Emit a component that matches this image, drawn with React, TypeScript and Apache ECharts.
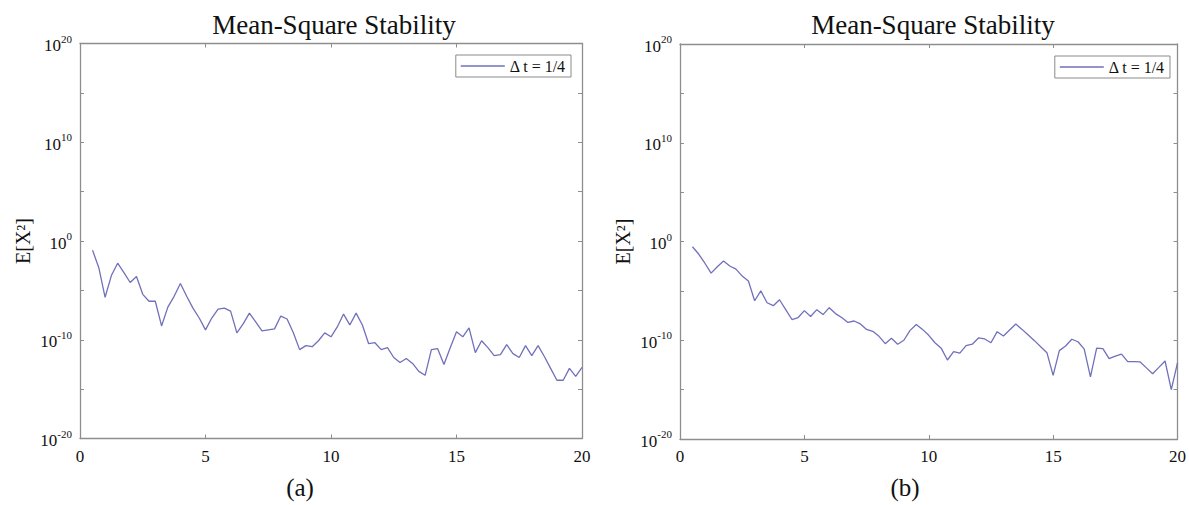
import React, { useEffect, useRef } from "react";
import * as echarts from "echarts";

// time steps t (Δt = 1/4)
const timeSteps = [
  0.5, 0.75, 1.0, 1.25, 1.5, 1.75, 2.0, 2.25, 2.5, 2.75,
  3.0, 3.25, 3.5, 3.75, 4.0, 4.25, 4.5, 4.75, 5.0, 5.25,
  5.5, 5.75, 6.0, 6.25, 6.5, 6.75, 7.0, 7.25, 7.5, 7.75,
  8.0, 8.25, 8.5, 8.75, 9.0, 9.25, 9.5, 9.75, 10.0, 10.25,
  10.5, 10.75, 11.0, 11.25, 11.5, 11.75, 12.0, 12.25, 12.5, 12.75,
  13.0, 13.25, 13.5, 13.75, 14.0, 14.25, 14.5, 14.75, 15.0, 15.25,
  15.5, 15.75, 16.0, 16.25, 16.5, 16.75, 17.0, 17.25, 17.5, 17.75,
  18.0, 18.25, 18.5, 18.75, 19.0, 19.25, 19.5, 19.75, 20.0,
];

// log10 of E[X^2], panel (a)
const log10EX2PanelA = [
  -0.94, -2.7, -5.7, -3.5, -2.25, -3.2, -4.2, -3.6, -5.4, -6.1,
  -6.1, -8.6, -6.7, -5.6, -4.3, -5.6, -6.8, -7.8, -9.0, -7.8,
  -6.9, -6.8, -7.1, -9.3, -8.4, -7.3, -8.2, -9.1, -9.0, -8.9,
  -7.6, -7.9, -9.3, -11.0, -10.6, -10.7, -10.1, -9.3, -9.7, -8.7,
  -7.4, -8.5, -7.3, -8.5, -10.4, -10.3, -11.0, -10.8, -11.8, -12.3,
  -11.9, -12.4, -13.2, -13.6, -11.0, -10.9, -12.5, -10.8, -9.2, -9.7,
  -8.8, -11.3, -10.1, -10.8, -11.6, -11.5, -10.5, -11.4, -11.8, -10.6,
  -11.6, -10.6, -11.7, -12.9, -14.1, -14.1, -12.9, -13.7, -12.8,
];

// log10 of E[X^2], panel (b)
const log10EX2PanelB = [
  -0.53, -1.27, -2.2, -3.2, -2.55, -1.97, -2.48, -2.8, -3.5, -4.0,
  -6.0, -5.0, -6.2, -6.5, -5.9, -6.9, -7.9, -7.7, -7.0, -7.6,
  -6.9, -7.4, -6.7, -7.3, -7.7, -8.2, -8.05, -8.35, -8.9, -9.1,
  -9.6, -10.35, -9.8, -10.4, -10.0, -9.0, -8.4, -8.9, -9.5, -10.25,
  -10.8, -12.0, -11.15, -11.3, -10.55, -10.4, -9.77, -9.87, -10.25, -9.13,
  -9.57, -8.96, -8.35, -8.9, -9.47, -10.04, -10.65, -11.26, -13.55, -11.05,
  -10.58, -9.9, -10.15, -10.9, -13.7, -10.8, -10.85, -11.87, -11.6, -11.4,
  -12.17, -12.17, -12.2, -12.8, -13.4, -12.75, -12.1, -15.0, -12.3,
];

const panelTitle = "Mean-Square Stability";
const seriesLabel = "Δ t = 1/4";
const yAxisTitle = "E[X²]";
const panelTags = ["(a)", "(b)"];

const FONT = "'Liberation Serif', 'Times New Roman', serif";
const AXIS_COLOR = "#8e8e8e";
const LINE_COLOR = "#7070bb";
const TEXT_COLOR = "#111";

const grids = [
  { left: 80, top: 43.5, width: 502, height: 395 },
  { left: 680, top: 44, width: 502, height: 395 },
];

export default function App() {
  const ref = useRef<HTMLDivElement>(null);

  useEffect(() => {
    if (!ref.current) return;
    const chart = echarts.init(ref.current, null, { renderer: "svg" });

    const axisLine = { show: true, onZero: false, lineStyle: { color: AXIS_COLOR, width: 1.3 } };
    const axisTick = { show: true, inside: true, length: 4, lineStyle: { color: AXIS_COLOR, width: 1 } };

    const xAxes: any[] = [];
    const yAxes: any[] = [];
    grids.forEach((_, gi) => {
      xAxes.push({
        type: "value", gridIndex: gi, position: "bottom", min: 0, max: 20, interval: 5,
        axisLine, axisTick, splitLine: { show: false },
        axisLabel: { margin: 9, fontSize: 17, fontFamily: FONT, color: TEXT_COLOR },
      });
      xAxes.push({
        type: "value", gridIndex: gi, position: "top", min: 0, max: 20, interval: 5,
        axisLine, axisTick, splitLine: { show: false }, axisLabel: { show: false },
      });
      yAxes.push({
        type: "value", gridIndex: gi, position: "left", min: -20, max: 20, interval: 5,
        axisLine, axisTick, splitLine: { show: false },
        name: yAxisTitle, nameLocation: "middle", nameRotate: 90, nameGap: 47,
        nameTextStyle: { fontSize: 20, fontFamily: FONT, color: TEXT_COLOR },
        axisLabel: {
          margin: 8,
          formatter: (v: number) => (v % 10 === 0 ? `{b|10}{s|${v}}` : ""),
          rich: {
            b: { fontSize: 17, fontFamily: FONT, color: TEXT_COLOR, lineHeight: 21, verticalAlign: "bottom" },
            s: { fontSize: 11, fontFamily: FONT, color: TEXT_COLOR, lineHeight: 12, verticalAlign: "top" },
          },
        },
      });
      yAxes.push({
        type: "value", gridIndex: gi, position: "right", min: -20, max: 20, interval: 5,
        axisLine, axisTick, splitLine: { show: false }, axisLabel: { show: false },
      });
    });

    const datasets = [log10EX2PanelA, log10EX2PanelB];
    const series = datasets.map((vals, gi) => ({
      type: "line",
      name: seriesLabel,
      xAxisIndex: gi * 2,
      yAxisIndex: gi * 2,
      data: vals.map((v, i) => [timeSteps[i], v]),
      symbol: "none",
      showSymbol: false,
      lineStyle: { color: LINE_COLOR, width: 1.3 },
      itemStyle: { color: LINE_COLOR },
      silent: true,
    }));

    const legendCommon = {
      data: [seriesLabel],
      orient: "horizontal",
      icon: "rect",
      itemWidth: 44,
      itemHeight: 1.5,
      itemGap: 5,
      padding: [3, 5],
      borderColor: "#8a8a8a",
      borderWidth: 1,
      backgroundColor: "#fff",
      selectedMode: false,
      itemStyle: { color: LINE_COLOR },
      textStyle: { fontSize: 16, fontFamily: FONT, color: TEXT_COLOR, lineHeight: 16 },
    };

    chart.setOption({
      animation: false,
      backgroundColor: "#fff",
      title: [
        {
          text: panelTitle, left: 334, top: 11, textAlign: "center", padding: 0,
          textStyle: { fontSize: 27, fontWeight: "normal", fontFamily: FONT, color: TEXT_COLOR },
        },
        {
          text: panelTitle, left: 933, top: 11, textAlign: "center", padding: 0,
          textStyle: { fontSize: 27, fontWeight: "normal", fontFamily: FONT, color: TEXT_COLOR },
        },
      ],
      legend: [
        { ...legendCommon, right: 1189 - 571, top: 55 },
        { ...legendCommon, right: 1189 - 1170, top: 56 },
      ],
      grid: grids.map((g) => ({ ...g, containLabel: false })),
      xAxis: xAxes,
      yAxis: yAxes,
      series,
      graphic: [
        {
          type: "text", x: 300, y: 487,
          style: { text: panelTags[0], fontSize: 25, fontFamily: FONT, fill: TEXT_COLOR, align: "center", verticalAlign: "middle" },
        },
        {
          type: "text", x: 905, y: 487,
          style: { text: panelTags[1], fontSize: 25, fontFamily: FONT, fill: TEXT_COLOR, align: "center", verticalAlign: "middle" },
        },
      ],
    });

    return () => chart.dispose();
  }, []);

  return (
    <div
      ref={ref}
      style={{ position: "absolute", left: 0, top: 0, width: 1189, height: 505, background: "#fff" }}
    />
  );
}
